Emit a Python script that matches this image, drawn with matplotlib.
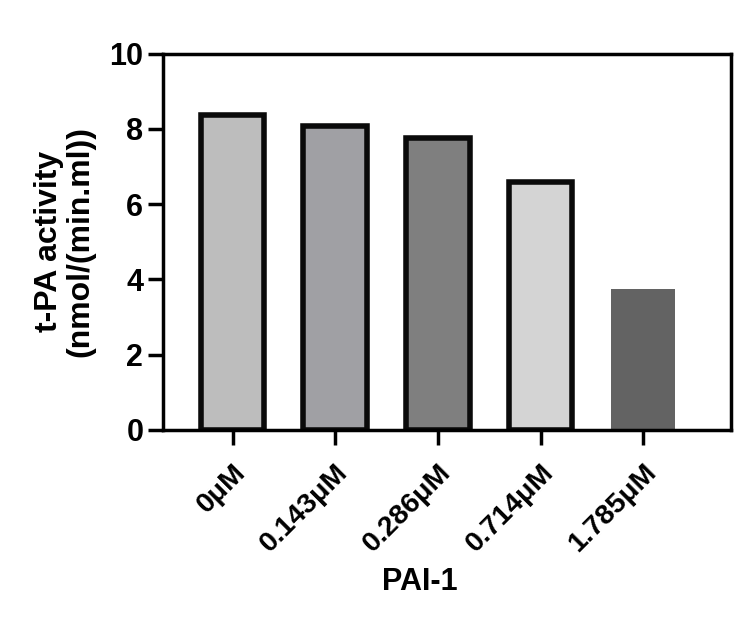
import matplotlib
matplotlib.use("Agg")
import matplotlib.pyplot as plt

plt.rcParams['font.family'] = ['Liberation Sans', 'DejaVu Sans']
plt.rcParams['font.weight'] = 'bold'

labels = ["0μM", "0.143μM", "0.286μM", "0.714μM", "1.785μM"]
values = [8.38, 8.09, 7.77, 6.6, 3.75]
colors = ["#bdbdbd", "#a0a0a4", "#7f7f7f", "#d4d4d4", "#636363"]
edges = ["#0a0a0a", "#0a0a0a", "#0a0a0a", "#0a0a0a", "#636363"]
lws = [4, 4, 4, 4, 0]

fig = plt.figure(figsize=(7.5, 6.24), dpi=100)
ax = fig.add_axes([0.217, 0.311, 0.757, 0.603])

x = list(range(len(values)))
for i in x:
    ax.bar(i, values[i], width=0.62, color=colors[i], edgecolor=edges[i],
           linewidth=lws[i], zorder=2)

ax.set_xlim(-0.68, 4.85)
ax.set_ylim(0, 10)
ax.set_yticks([0, 2, 4, 6, 8, 10])
ax.set_xticks(x)
ax.set_xticklabels(labels, rotation=45, ha='right', rotation_mode='anchor')

for s in ax.spines.values():
    s.set_linewidth(2.5)
ax.tick_params(axis='both', width=2.5, length=11, labelsize=22, pad=3)
ax.tick_params(axis='x', pad=10, labelsize=20.5)

ax.set_ylabel("t-PA activity\n(nmol/(min.ml))", fontsize=23, fontweight='bold',
              labelpad=10, linespacing=1.05)
ax.set_xlabel("PAI-1", fontsize=22, fontweight='bold')
ax.xaxis.set_label_coords(0.452, -0.365)

fig.savefig("out.png", dpi=100)
